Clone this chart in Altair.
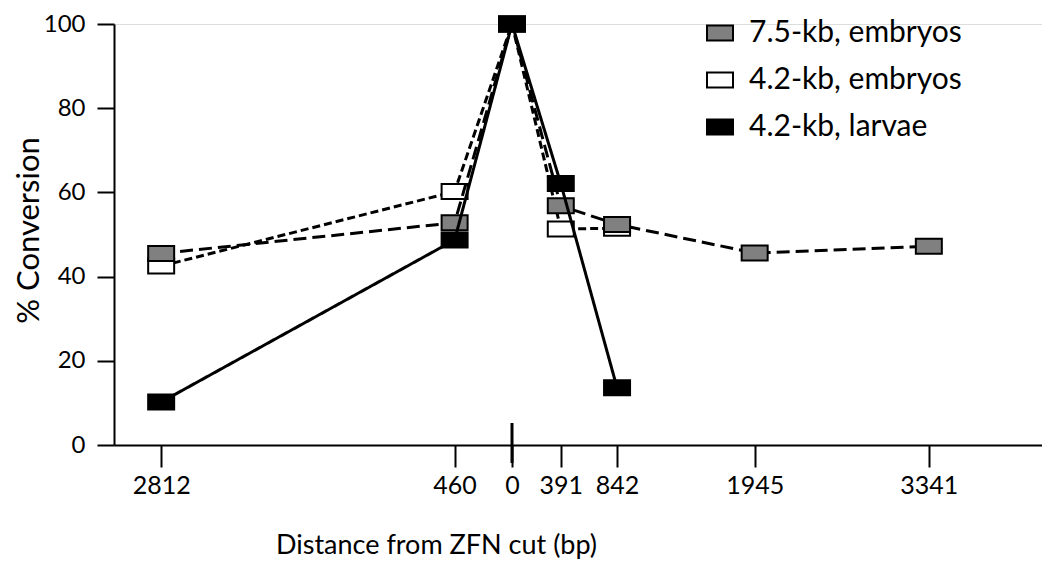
import altair as alt
import pandas as pd

# Signed distance from the ZFN cut (bp): negative = left of the cut
distances = [-2812, -460, 0, 391, 842, 1945, 3341]
tick_values = [-2812, -460, 0, 391, 842, 1945, 3341]

series_names = ["7.5-kb, embryos", "4.2-kb, embryos", "4.2-kb, larvae"]
conv_75_embryos = [45.5, 52.8, 100, 56.8, 52.4, 45.6, 47.2]
conv_42_embryos = [42.5, 60.2, 100, 51.3, 51.5]
conv_42_larvae = [10.2, 48.7, 100, 62.1, 13.6]

fills = ["#808080", "#ffffff", "#000000"]
dashes = [[13, 6], [8, 4], [1, 0]]

values_by_series = {
    series_names[0]: conv_75_embryos,
    series_names[1]: conv_42_embryos,
    series_names[2]: conv_42_larvae,
}

rows = []
for name, vals in values_by_series.items():
    for d, v in zip(distances, vals):
        rows.append({"series": name, "distance": d, "conversion": v})
df = pd.DataFrame(rows)

FONT = "Lato"
RECT = "M-1,-0.577L1,-0.577L1,0.577L-1,0.577Z"
X_DOMAIN = [-3190, 4248]

x_enc = alt.X(
    "distance:Q",
    scale=alt.Scale(domain=X_DOMAIN, nice=False, zero=False),
    axis=alt.Axis(
        values=tick_values,
        labelExpr="format(abs(datum.value), 'd')",
        title="Distance from ZFN cut (bp)",
        titleFontSize=27,
        titleFontWeight="normal",
        titleFont=FONT,
        titleX=322,
        titleY=108,
        titleAlign="center",
        titleBaseline="alphabetic",
        labelFont=FONT,
        labelFontSize=25,
        labelColor="black",
        labelPadding=6,
        tickSize=22,
        tickWidth=2,
        tickColor="black",
        domainColor="black",
        domainWidth=2,
        grid=False,
        labelFlush=False,
        labelOverlap=False,
    ),
)
y_enc = alt.Y(
    "conversion:Q",
    scale=alt.Scale(domain=[0, 100], nice=False),
    axis=alt.Axis(
        values=[0, 20, 40, 60, 80, 100],
        title="% Conversion",
        titleFontSize=31,
        titleFontWeight="normal",
        titleFont=FONT,
        titleAngle=270,
        titleX=-76,
        titleY=206,
        titleAlign="center",
        titleBaseline="alphabetic",
        labelFont=FONT,
        labelFontSize=24,
        labelColor="black",
        labelPadding=12,
        tickSize=17,
        tickWidth=2,
        tickColor="black",
        domainColor="black",
        domainWidth=2,
        grid=False,
        labelFlush=False,
    ),
)

fill_scale = alt.Scale(domain=series_names, range=fills)

layers = []
draw_order = [1, 0, 2]
for i in draw_order:
    name = series_names[i]
    base = alt.Chart(df).transform_filter(alt.datum.series == name)
    line = base.mark_line(
        color="black", strokeWidth=3, strokeDash=dashes[i]
    ).encode(x=x_enc, y=y_enc, order="distance:Q")
    pts = base.mark_point(
        shape=RECT, size=676, filled=True, opacity=1, stroke="black", strokeWidth=2
    ).encode(
        x=x_enc,
        y=y_enc,
        fill=alt.Fill(
            "series:N",
            scale=fill_scale,
            legend=alt.Legend(
                title=None,
                orient="none",
                legendX=591,
                legendY=-6,
                symbolType=RECT,
                symbolSize=676,
                symbolStrokeColor="black",
                symbolStrokeWidth=2,
                symbolOpacity=1,
                labelFont=FONT,
                labelFontSize=30,
                labelColor="black",
                labelOffset=14,
                labelLimit=0,
                rowPadding=17,
                padding=0,
            ),
        ),
    )
    layers += [line, pts]

zero_mark = alt.Chart(pd.DataFrame({"distance": [0]})).mark_rule(
    color="black", strokeWidth=3
).encode(x=alt.X("distance:Q", scale=alt.Scale(domain=X_DOMAIN, nice=False, zero=False)),
         y=alt.value(399), y2=alt.value(439))

chart = alt.layer(zero_mark, *layers).properties(
    width=928,
    height=421,
    autosize=alt.AutoSizeParams(type="none"),
    padding={"left": 106, "top": 16, "right": 0, "bottom": 126},
).configure_view(stroke=None).configure(background="white")

chart.save("out.html", embed_options={"renderer": "svg", "actions": False})
